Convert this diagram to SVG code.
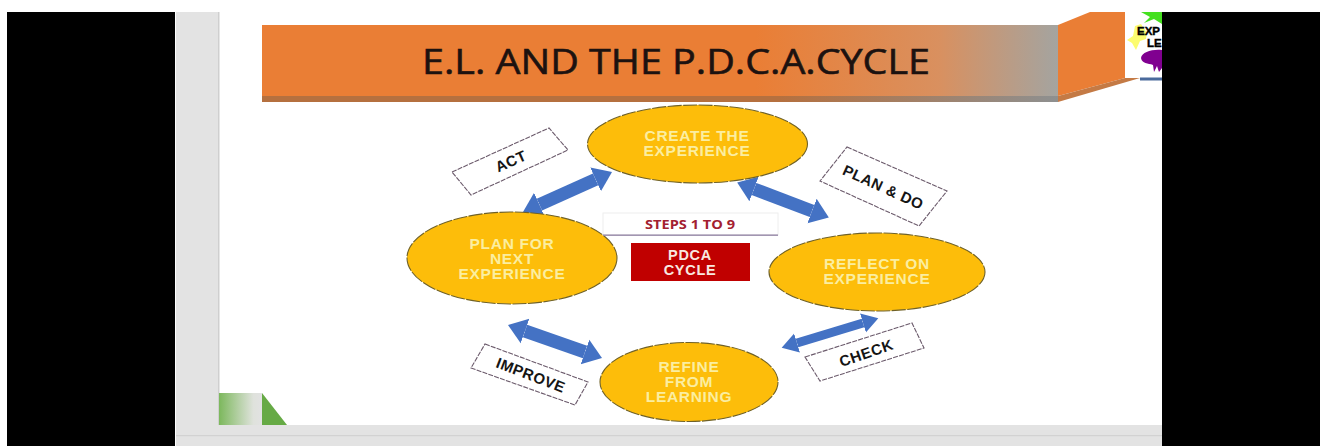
<svg xmlns="http://www.w3.org/2000/svg" width="1320" height="446" viewBox="0 0 1320 446">
<style>
.ell{fill:#fdbd0a;stroke:#6f6128;stroke-width:1.1;stroke-dasharray:14 1.5}
.nt{font-family:"Liberation Sans",Arial,sans-serif;font-weight:700;font-size:15.500px;fill:#fbeea0;text-anchor:middle;letter-spacing:.7px}
.lb{fill:#fff;stroke:#6b5a6b;stroke-width:1.1;stroke-dasharray:5 1.2}
.lt{font-family:"Liberation Sans",Arial,sans-serif;font-weight:700;font-size:15px;fill:#151515;text-anchor:middle;letter-spacing:.5px}
.arr{fill:none;stroke:#4472c4;stroke-linecap:butt}
</style>
<defs>
<linearGradient id="bannerGrad" x1="0" x2="1" y1="0" y2="0">
<stop offset="0" stop-color="#ea7e35"/><stop offset=".62" stop-color="#ea7e35"/><stop offset=".85" stop-color="#d9905f"/><stop offset="1" stop-color="#a4a4a0"/>
</linearGradient>
<linearGradient id="bandGrad" x1="0" x2="1" y1="0" y2="0">
<stop offset="0" stop-color="#b5703f"/><stop offset=".65" stop-color="#b5703f"/><stop offset="1" stop-color="#8e9090"/>
</linearGradient>
<linearGradient id="greenGrad" x1="0" x2="1" y1="0" y2="0">
<stop offset="0" stop-color="#7cb85c"/><stop offset=".8" stop-color="#dfe2dc"/><stop offset="1" stop-color="#e2e2e2"/>
</linearGradient>
<marker id="headL" markerUnits="userSpaceOnUse" markerWidth="20" markerHeight="34" refX="0" refY="17" orient="auto-start-reverse"><path d="M0 4 L18 17 L0 30 Z" fill="#4472c4"/></marker>
<marker id="headS" markerUnits="userSpaceOnUse" markerWidth="20" markerHeight="34" refX="0" refY="17" orient="auto-start-reverse"><path d="M0 7 L16 17 L0 27 Z" fill="#4472c4"/></marker>
</defs>
<rect width="1320" height="446" fill="#fff"/>
<g id="banner">
<path d="M1058 25L1090 12H1125V78L1058 96Z" fill="#ea7e35"/>
<path d="M1058 96L1125 78H1140L1058 102Z" fill="#c47a45"/>
<rect x="262" y="25" width="796" height="71" fill="url(#bannerGrad)"/>
<rect x="262" y="96" width="796" height="6" fill="url(#bandGrad)"/>
<text x="676" y="74" font-family="'Open Sans',sans-serif" font-size="35" fill="#1c1210" stroke="#1c1210" stroke-width=".6" text-anchor="middle" textLength="508" lengthAdjust="spacingAndGlyphs">E.L. AND THE P.D.C.A.CYCLE</text>
</g>
<g id="logo">
<rect x="1125" y="12" width="37" height="66" fill="#fff"/>
<rect x="1140" y="77.500" width="22" height="3" fill="#4a6a9c"/>
<path d="M1162 12H1141L1150 17L1144 23L1154 19L1162 24Z" fill="#45e020"/>
<path d="M1141 24L1147 33L1146 39L1140 41L1136 50L1132 43L1127 40L1133 36L1135 26Z" fill="#fcfc70"/>
<path d="M1162 50C1152 49 1142 52 1141 58C1142 64 1148 63 1153 65L1154 72L1157 66L1159 72L1162 68Z" fill="#800090"/>
<text x="1137" y="35" font-family="'Liberation Sans',sans-serif" font-weight="700" font-size="11.500" fill="#000" stroke="#000" stroke-width=".4">EXP</text>
<text x="1147" y="47" font-family="'Liberation Sans',sans-serif" font-weight="700" font-size="11.500" fill="#000" stroke="#000" stroke-width=".4">LE</text>
</g>
<g id="frame">
<rect x="7" y="12" width="168" height="434" fill="#000"/>
<rect x="1162" y="12" width="158" height="434" fill="#000"/>
<rect x="176" y="12" width="43" height="434" fill="#e3e3e3"/>
<rect x="218" y="12" width="1.500" height="413" fill="#cfcfcf"/>
<rect x="176" y="425" width="986" height="21" fill="#e3e3e3"/>
<rect x="176" y="435" width="986" height="1.200" fill="#d2d2d2"/>
<rect x="219" y="393" width="43" height="32" fill="url(#greenGrad)"/>
<path d="M262 393L287 425H262Z" fill="#66aa45"/>
</g>
<g id="connectors">
<line class="arr" stroke-width="13" x1="539.400" y1="204.600" x2="595.600" y2="179.400" marker-start="url(#headL)" marker-end="url(#headL)"/>
<line class="arr" stroke-width="13" x1="754" y1="189" x2="812" y2="211" marker-start="url(#headL)" marker-end="url(#headL)"/>
<line class="arr" stroke-width="9" x1="797" y1="343" x2="863" y2="323" marker-start="url(#headS)" marker-end="url(#headS)"/>
<line class="arr" stroke-width="13" x1="525" y1="331" x2="585" y2="352" marker-start="url(#headL)" marker-end="url(#headL)"/>
</g>
<g id="node-create">
<ellipse class="ell" cx="697.500" cy="144" rx="110" ry="39"/>
<text class="nt" x="697" y="141">CREATE THE</text><text class="nt" x="697" y="156">EXPERIENCE</text>
</g>
<g id="node-plan">
<ellipse class="ell" cx="512" cy="258" rx="105" ry="46"/>
<text class="nt" x="512" y="248.500">PLAN FOR</text><text class="nt" x="512" y="263.500">NEXT</text><text class="nt" x="512" y="278.500">EXPERIENCE</text>
</g>
<g id="node-reflect">
<ellipse class="ell" cx="877" cy="272" rx="108" ry="39"/>
<text class="nt" x="877" y="269">REFLECT ON</text><text class="nt" x="877" y="284">EXPERIENCE</text>
</g>
<g id="node-refine">
<ellipse class="ell" cx="689" cy="382" rx="89" ry="39.500"/>
<text class="nt" x="689" y="372">REFINE</text><text class="nt" x="689" y="387">FROM</text><text class="nt" x="689" y="402">LEARNING</text>
</g>
<g id="label-act">
<polygon class="lb" points="452,172 549,128 568,150 471,195"/>
<text class="lt" transform="translate(513 166) rotate(-24)">ACT</text>
</g>
<g id="label-plan-do">
<polygon class="lb" points="847,147 947,191 919,226 820,181"/>
<text class="lt" transform="translate(881 192) rotate(24.500)">PLAN &amp; DO</text>
</g>
<g id="label-check">
<polygon class="lb" points="805,357 912,323 924,348 820,381"/>
<text class="lt" transform="translate(868 358) rotate(-19)">CHECK</text>
</g>
<g id="label-improve">
<polygon class="lb" points="485,344 588,382 575,405 471,368"/>
<text class="lt" transform="translate(529 380) rotate(21)">IMPROVE</text>
</g>
<g id="center-steps">
<rect x="603" y="213" width="175" height="22" fill="#fff" stroke="#eee" stroke-width="1"/>
<rect x="603" y="234.500" width="175" height="1.300" fill="#8d7ea0"/>
<text x="690" y="229" font-family="'Open Sans',sans-serif" font-weight="700" font-size="12" fill="#a32030" text-anchor="middle" textLength="90" lengthAdjust="spacingAndGlyphs">STEPS 1 TO 9</text>
</g>
<g id="center-pdca">
<rect x="631" y="243" width="119" height="38" fill="#c00000"/>
<text class="nt" x="690" y="259.500" style="fill:#f8e8e0;font-size:14.500px">PDCA</text><text class="nt" x="690" y="274.500" style="fill:#f8e8e0;font-size:14.500px">CYCLE</text>
</g>
</svg>
